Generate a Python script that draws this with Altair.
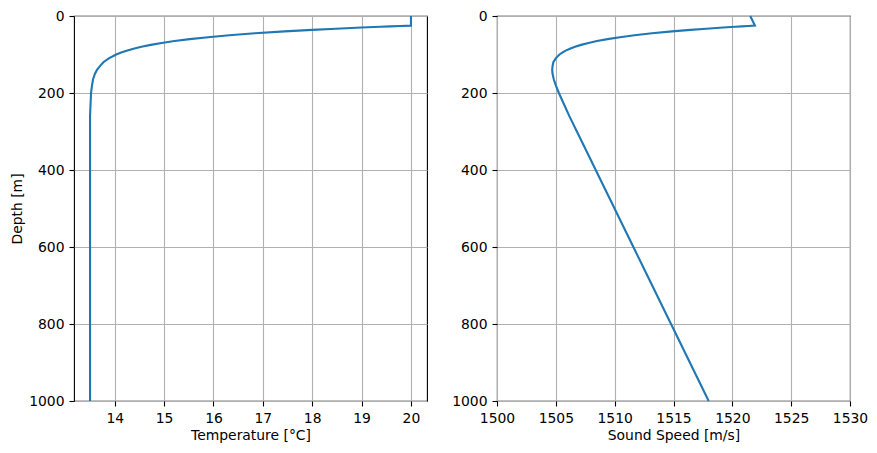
import altair as alt
import pandas as pd

# Depth profile
depth = [0, 25, 26, 27, 28, 30, 33, 36, 40, 45, 50, 55, 60, 65, 70, 75, 80, 85, 90, 95,
         100, 110, 120, 130, 140, 150, 165, 180, 200, 230, 260, 300, 400, 500, 600,
         700, 800, 900, 1000]
temperature = [20.00, 20.00, 19.79, 19.58, 19.38, 19.00, 18.48, 18.00, 17.44, 16.84,
               16.32, 15.89, 15.52, 15.21, 14.95, 14.73, 14.54, 14.38, 14.24, 14.13,
               14.03, 13.88, 13.77, 13.70, 13.64, 13.60, 13.56, 13.54, 13.52, 13.51,
               13.50, 13.50, 13.50, 13.50, 13.50, 13.50, 13.50, 13.50, 13.50]
sound_speed = [1521.52, 1521.92, 1521.36, 1520.79, 1520.26, 1519.21, 1517.79, 1516.45,
               1514.87, 1513.17, 1511.68, 1510.45, 1509.39, 1508.50, 1507.77, 1507.15,
               1506.63, 1506.20, 1505.83, 1505.55, 1505.31, 1504.99, 1504.79, 1504.72,
               1504.69, 1504.72, 1504.83, 1505.00, 1505.26, 1505.70, 1506.15, 1506.79,
               1508.39, 1509.99, 1511.59, 1513.19, 1514.79, 1516.39, 1517.99]

temp_ticks = [14, 15, 16, 17, 18, 19, 20]
speed_ticks = [1500, 1505, 1510, 1515, 1520, 1525, 1530]
depth_ticks = [0, 200, 400, 600, 800, 1000]

df = pd.DataFrame({"depth": depth, "temperature": temperature, "speed": sound_speed})

FONT = "DejaVu Sans"
FS = 13.9
LINE = "#1f77b4"

y_scale = alt.Scale(domain=[0, 1000], reverse=True, nice=False, zero=False)

left = alt.Chart(df).mark_line(color=LINE, strokeWidth=2.1).encode(
    x=alt.X("temperature:Q",
            scale=alt.Scale(domain=[13.175, 20.325], nice=False, zero=False),
            axis=alt.Axis(values=temp_ticks, format="d", title="Temperature [°C]")),
    y=alt.Y("depth:Q", scale=y_scale,
            axis=alt.Axis(values=depth_ticks, format="d", title="Depth [m]",
                          minExtent=45, maxExtent=45, titlePadding=4.5)),
    order=alt.Order("depth:Q"),
).properties(width=353, height=385)

right = alt.Chart(df).mark_line(color=LINE, strokeWidth=2.1).encode(
    x=alt.X("speed:Q",
            scale=alt.Scale(domain=[1500, 1530], nice=False, zero=False),
            axis=alt.Axis(values=speed_ticks, format="d", title="Sound Speed [m/s]")),
    y=alt.Y("depth:Q", scale=y_scale,
            axis=alt.Axis(values=depth_ticks, format="d", title=None,
                          minExtent=45, maxExtent=45)),
    order=alt.Order("depth:Q"),
).properties(width=353, height=385)

chart = alt.hconcat(left, right, spacing=23).properties(
    padding={"left": 1, "top": 0, "right": 0, "bottom": 0}
).configure(
    background="white"
).configure_view(
    stroke="black", strokeWidth=1.1
).configure_axis(
    labelFont=FONT, labelFontSize=FS, titleFont=FONT, titleFontSize=FS,
    titleFontWeight="normal", labelColor="black", titleColor="black",
    tickColor="black", tickSize=5, tickWidth=1.1, domain=False,
    grid=True, gridColor="#b0b0b0", gridWidth=1.1, labelPadding=5,
    labelFlush=False, labelOverlap=False,
).configure_axisX(titlePadding=4)

chart.save("out.html", embed_options={"renderer": "svg", "actions": False})
